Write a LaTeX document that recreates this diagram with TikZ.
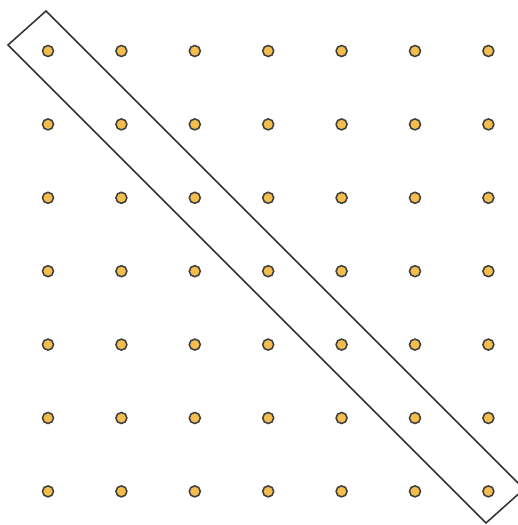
\documentclass[tikz,border=0pt]{standalone}
\usepackage{tikz}
\definecolor{dotfill}{HTML}{F4BE4F}

\begin{document}
\begin{tikzpicture}[dot/.style={circle,draw=black!75,line width=0.6pt,fill=dotfill,inner sep=0pt,minimum size=0.15cm}]
\useasboundingbox (-0.654,-0.458) rectangle (6.403,6.695);
\clip (-0.654,-0.458) rectangle (6.403,6.695);
\foreach \a in {0,...,6}{
  \foreach \b in {0,...,6}{
    \node[dot] (d\a\b) at (\a,\b) {};
  }
}
\draw[black!80,line width=0.6pt] (-0.027,6.545) -- (-0.545,6.082) -- (5.967,-0.431) -- (6.485,0.032) -- cycle;
\end{tikzpicture}
\end{document}
